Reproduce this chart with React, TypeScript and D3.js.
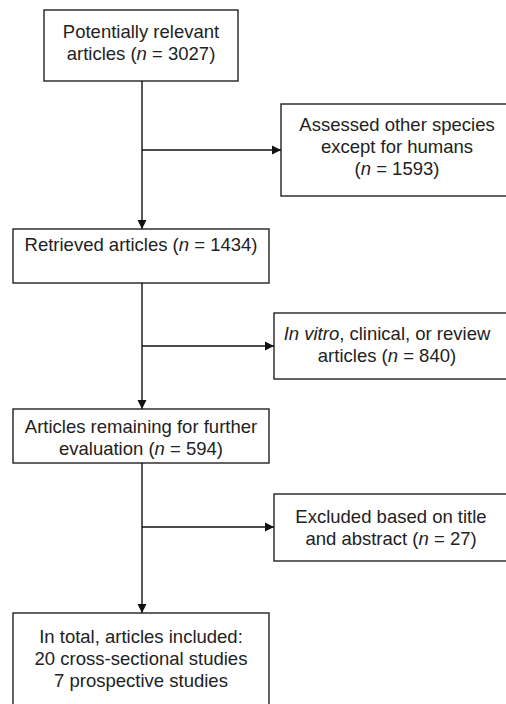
import React from 'react';
import * as d3 from 'd3';

// counts shown in the boxes
const counts = [3027, 1434, 594];
const excluded = [1593, 840, 27];

// text of each box; {n} marks the italic "n", {c} is the count of that box
const mainLabels: string[][] = [
  ['Potentially relevant', 'articles ({n} = {c})'],
  ['Retrieved articles ({n} = {c})'],
  ['Articles remaining for further', 'evaluation ({n} = {c})'],
  ['In total, articles included:', '20 cross-sectional studies', '7 prospective studies'],
];

const sideLabels: string[][] = [
  ['Assessed other species', 'except for humans', '({n} = {c})'],
  ['{i}In vitro{/i}, clinical, or review', 'articles ({n} = {c})'],
  ['Excluded based on title', 'and abstract ({n} = {c})'],
];

const W = 506;
const H = 704;
const FONT = 'Liberation Sans, Arial, sans-serif';
const FS = 18.5;
const LH = 22;

// layout (pixels)
const mainX = 142;
const mainBoxes = [
  { x0: 44, x1: 238, y0: 10, y1: 81, ty: 32 },
  { x0: 13, x1: 269, y0: 229, y1: 283, ty: 245 },
  { x0: 13, x1: 269, y0: 409, y1: 463, ty: 427 },
  { x0: 13, x1: 269, y0: 613, y1: 708, ty: 637 },
];
const sideBoxes = [
  { x0: 281, x1: 510, y0: 104, y1: 196, ty: 125, cx: 397, by: 150 },
  { x0: 274, x1: 510, y0: 313, y1: 379, ty: 334, cx: 387, by: 346 },
  { x0: 274, x1: 510, y0: 494, y1: 561, ty: 517, cx: 391, by: 527 },
];

const renderLine = (s: string, c?: number) => {
  const txt = c === undefined ? s : s.replace('{c}', String(c));
  const parts = txt.split(/(\{n\}|\{i\}.*?\{\/i\})/).filter(p => p !== '');
  return parts.map((p, i) => {
    if (p === '{n}') return <tspan key={i} fontStyle="italic">n</tspan>;
    if (p.startsWith('{i}')) return <tspan key={i} fontStyle="italic">{p.replace('{i}', '').replace('{/i}', '')}</tspan>;
    return <tspan key={i}>{p}</tspan>;
  });
};

const Arrow: React.FC<{ x1: number; y1: number; x2: number; y2: number }> = ({ x1, y1, x2, y2 }) => {
  const p = d3.path();
  p.moveTo(x1, y1);
  p.lineTo(x2, y2);
  const ang = Math.atan2(y2 - y1, x2 - x1);
  const len = 9;
  const hw = 4.5;
  const bx = x2 - len * Math.cos(ang);
  const by = y2 - len * Math.sin(ang);
  const head = d3.path();
  head.moveTo(x2, y2);
  head.lineTo(bx - hw * Math.sin(ang), by + hw * Math.cos(ang));
  head.lineTo(bx + hw * Math.sin(ang), by - hw * Math.cos(ang));
  head.closePath();
  return (
    <g>
      <path d={p.toString()} stroke="#111" strokeWidth={1.4} fill="none" />
      <path d={head.toString()} fill="#111" />
    </g>
  );
};

export default function App() {
  return (
    <svg width={W} height={H} style={{ position: 'absolute', left: 0, top: 0 }} fontFamily={FONT}>
      <rect width={W} height={H} fill="#fff" />
      {mainBoxes.map((b, i) => (
        <g key={'m' + i}>
          <rect x={b.x0} y={b.y0} width={b.x1 - b.x0} height={b.y1 - b.y0} fill="#fff" stroke="#222" strokeWidth={1.4} />
          {mainLabels[i].map((l, j) => (
            <text key={j} x={(b.x0 + b.x1) / 2} y={b.ty + j * LH + FS * 0.35} textAnchor="middle" fontSize={FS} fill="#222">
              {renderLine(l, counts[i])}
            </text>
          ))}
        </g>
      ))}
      {sideBoxes.map((b, i) => (
        <g key={'s' + i}>
          <rect x={b.x0} y={b.y0} width={b.x1 - b.x0} height={b.y1 - b.y0} fill="#fff" stroke="#222" strokeWidth={1.4} />
          {sideLabels[i].map((l, j) => (
            <text key={j} x={b.cx} y={b.ty + j * LH + FS * 0.35} textAnchor="middle" fontSize={FS} fill="#222">
              {renderLine(l, excluded[i])}
            </text>
          ))}
          <Arrow x1={mainX} y1={b.by} x2={b.x0} y2={b.by} />
        </g>
      ))}
      {mainBoxes.slice(1).map((b, i) => (
        <Arrow key={'v' + i} x1={mainX} y1={mainBoxes[i].y1} x2={mainX} y2={b.y0} />
      ))}
    </svg>
  );
}
